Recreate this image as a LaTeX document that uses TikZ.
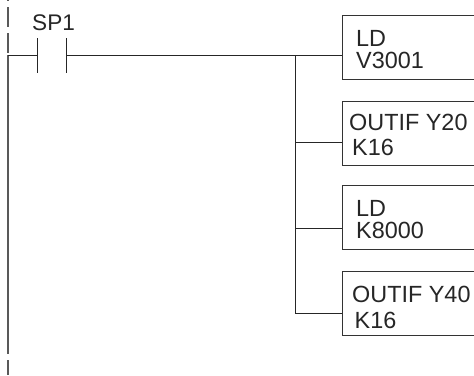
\documentclass[tikz,border=0pt]{standalone}
\usepackage{fontspec}
\setmainfont{Liberation Sans}
\tikzset{
  x=1pt,y=-1pt,
  wire/.style={draw=black!85,line width=1pt},
  rail/.style={draw=black!65,line width=1.8pt},
  boxshape/.style={draw=black!80,line width=1.1pt,fill=white},
  lbl/.style={inner sep=0pt,anchor=base west,font=\fontsize{23.4}{24}\selectfont,text=black!85}
}
\begin{document}
\begin{tikzpicture}
\useasboundingbox (0,0) rectangle (474,375);
% power rail
\draw[rail] (8,0) -- (8,1);
\draw[rail] (8,7) -- (8,27);
\draw[rail] (8,33) -- (8,53);
\draw[rail] (8,55) -- (8,354);
\draw[rail] (8,360) -- (8,375);
% boxes
\node[boxshape,minimum width=140pt,minimum height=64pt,inner sep=0pt,anchor=north west] (b1) at (342,15) {};
\node[boxshape,minimum width=140pt,minimum height=64pt,inner sep=0pt,anchor=north west] (b2) at (342,101) {};
\node[boxshape,minimum width=140pt,minimum height=64pt,inner sep=0pt,anchor=north west] (b3) at (342,185) {};
\node[boxshape,minimum width=140pt,minimum height=64pt,inner sep=0pt,anchor=north west] (b4) at (342,271) {};
% contact
\coordinate (railpt) at (8,55);
\coordinate (c1a) at (37,38);
\coordinate (c1b) at (37,73);
\coordinate (c2a) at (66.5,38);
\coordinate (c2b) at (66.5,73);
\coordinate (cl) at (37,55);
\coordinate (cr) at (66.5,55);
\coordinate (bus1) at (295,55);
\coordinate (bus2) at (295,142);
\coordinate (bus3) at (295,228);
\coordinate (bus4) at (295,313);
\coordinate (e1) at (342,55);
\coordinate (e2) at (342,142);
\coordinate (e3) at (342,228);
\coordinate (e4) at (342,313);
\draw[wire] (c1a) -- (c1b);
\draw[wire] (c2a) -- (c2b);
\draw[wire] (railpt) -- (cl);
\draw[wire] (cr) -- (e1);
\draw[wire] (bus1) -- (bus4) -- (e4);
\draw[wire] (bus2) -- (e2);
\draw[wire] (bus3) -- (e3);
% labels
\node[lbl,font=\fontsize{22.6}{24}\selectfont] (sp) at (32,30) {SP1};
\node[lbl] (t1a) at (356,46) {LD};
\node[lbl] (t1b) at (356,68) {V3001};
\node[lbl] (t2a) at (349,130) {OUTIF Y20};
\node[lbl] (t2b) at (352,155.5) {K16};
\node[lbl] (t3a) at (356,216) {LD};
\node[lbl] (t3b) at (356,238) {K8000};
\node[lbl] (t4a) at (352,302) {OUTIF Y40};
\node[lbl] (t4b) at (354.5,328.5) {K16};
\end{tikzpicture}
\end{document}
